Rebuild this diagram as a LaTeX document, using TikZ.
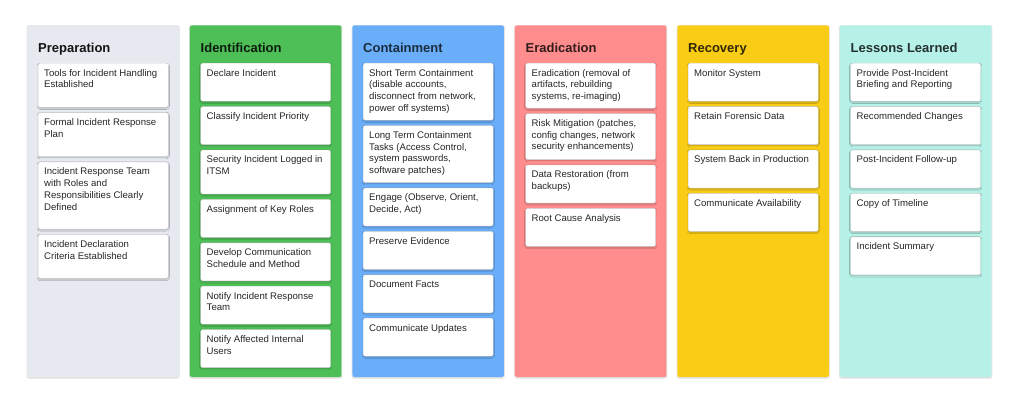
\documentclass[tikz,border=0pt]{standalone}
\usepackage{fontspec}
\setmainfont{Liberation Sans}
\usetikzlibrary{positioning, shadows.blur}
\definecolor{prepGray}{RGB}{230, 233, 239}
\definecolor{identGreen}{RGB}{78, 190, 86}
\definecolor{containBlue}{RGB}{106, 174, 249}
\definecolor{eradRed}{RGB}{255, 141, 141}
\definecolor{recovYellow}{RGB}{249, 204, 22}
\definecolor{lessonsTeal}{RGB}{182, 241, 232}
\newcommand{\cardtext}[2]{\parbox[t][#1][t]{118pt}{\raggedright #2}}
\tikzset{
    % Column Style
    phase/.style={
        rectangle,
        rounded corners=2pt,
        minimum width=152pt,
        minimum height=352pt,
        inner sep=0pt,
        draw=black!8,
        fill=#1,
        blur shadow={shadow xshift=0pt, shadow yshift=-0.8pt, shadow blur radius=1.2pt, shadow opacity=20}
    },
    % Card Style
    card/.style={
        rectangle,
        rounded corners=2pt,
        inner xsep=6pt,
        inner ysep=6pt,
        fill=white,
        draw=black!20,
        text=black!85,
        font=\fontsize{9.6}{11.7}\selectfont,
        blur shadow={shadow xshift=0pt, shadow yshift=-1pt, shadow blur radius=1.2pt, shadow opacity=25}
    },
    % Title Style
    phaseTitle/.style={font=\bfseries\fontsize{13}{15}\selectfont, anchor=base west, inner sep=0pt}
}

\begin{document}
\begin{tikzpicture}[node distance=5pt and 10.1pt]

    \useasboundingbox (0pt,0pt) rectangle (1024pt,-410pt);

    % --- COLUMNS ---
    \node (prep) [phase=prepGray, anchor=north west] at (27pt,-25pt) {};
    \node (ident) [phase=identGreen, right=of prep] {};
    \node (contain) [phase=containBlue, right=of ident] {};
    \node (erad) [phase=eradRed, right=of contain] {};
    \node (recov) [phase=recovYellow, right=of erad] {};
    \node (lessons) [phase=lessonsTeal, right=of recov] {};

    % --- TITLES ---
    \node (prepT) [phaseTitle, text=black!92] at ([xshift=11pt,yshift=-27pt]prep.north west) {Preparation};
    \node (identT) [phaseTitle, text=identGreen!15!black] at ([xshift=11pt,yshift=-27pt]ident.north west) {Identification};
    \node (containT) [phaseTitle, text=containBlue!25!black] at ([xshift=11pt,yshift=-27pt]contain.north west) {Containment};
    \node (eradT) [phaseTitle, text=eradRed!20!black] at ([xshift=11pt,yshift=-27pt]erad.north west) {Eradication};
    \node (recovT) [phaseTitle, text=recovYellow!20!black] at ([xshift=11pt,yshift=-27pt]recov.north west) {Recovery};
    \node (lessonsT) [phaseTitle, text=lessonsTeal!20!black] at ([xshift=11pt,yshift=-27pt]lessons.north west) {Lessons Learned};

    % --- Preparation ---
    \node (prep1) [card, anchor=north west] at ([xshift=11pt,yshift=-38pt]prep.north west) {\cardtext{32pt}{Tools for Incident Handling Established}};
    \node (prep2) [card, below=of prep1] {\cardtext{32pt}{Formal Incident Response Plan}};
    \node (prep3) [card, below=of prep2] {\cardtext{55pt}{Incident Response Team with Roles and Responsibilities Clearly Defined}};
    \node (prep4) [card, below=of prep3] {\cardtext{32pt}{Incident Declaration Criteria Established}};

    % --- Identification ---
    \node (ident1) [card, anchor=north west] at ([xshift=11pt,yshift=-38pt]ident.north west) {\cardtext{26pt}{Declare Incident}};
    \node (ident2) [card, below=of ident1] {\cardtext{26pt}{Classify Incident Priority}};
    \node (ident3) [card, below=of ident2] {\cardtext{32pt}{Security Incident Logged in ITSM}};
    \node (ident4) [card, below=of ident3] {\cardtext{26pt}{Assignment of Key Roles}};
    \node (ident5) [card, below=of ident4] {\cardtext{26pt}{Develop Communication Schedule and Method}};
    \node (ident6) [card, below=of ident5] {\cardtext{26pt}{Notify Incident Response Team}};
    \node (ident7) [card, below=of ident6] {\cardtext{26pt}{Notify Affected Internal Users}};

    % --- Containment ---
    \node (contain1) [card, anchor=north west] at ([xshift=11pt,yshift=-38pt]contain.north west) {\cardtext{45pt}{Short Term Containment (disable accounts, disconnect from network, power off systems)}};
    \node (contain2) [card, below=of contain1] {\cardtext{45pt}{Long Term Containment Tasks (Access Control, system passwords, software patches)}};
    \node (contain3) [card, below=of contain2] {\cardtext{26pt}{Engage (Observe, Orient, Decide, Act)}};
    \node (contain4) [card, below=of contain3] {\cardtext{26pt}{Preserve Evidence}};
    \node (contain5) [card, below=of contain4] {\cardtext{26pt}{Document Facts}};
    \node (contain6) [card, below=of contain5] {\cardtext{26pt}{Communicate Updates}};

    % --- Eradication ---
    \node (erad1) [card, anchor=north west] at ([xshift=11pt,yshift=-38pt]erad.north west) {\cardtext{33pt}{Eradication (removal of artifacts, rebuilding systems, re-imaging)}};
    \node (erad2) [card, below=of erad1] {\cardtext{34pt}{Risk Mitigation (patches, config changes, network security enhancements)}};
    \node (erad3) [card, below=of erad2] {\cardtext{26pt}{Data Restoration (from backups)}};
    \node (erad4) [card, below=of erad3] {\cardtext{26pt}{Root Cause Analysis}};

    % --- Recovery ---
    \node (recov1) [card, anchor=north west] at ([xshift=11pt,yshift=-38pt]recov.north west) {\cardtext{26pt}{Monitor System}};
    \node (recov2) [card, below=of recov1] {\cardtext{26pt}{Retain Forensic Data}};
    \node (recov3) [card, below=of recov2] {\cardtext{26pt}{System Back in Production}};
    \node (recov4) [card, below=of recov3] {\cardtext{26pt}{Communicate Availability}};

    % --- Lessons Learned ---
    \node (lessons1) [card, anchor=north west] at ([xshift=11pt,yshift=-38pt]lessons.north west) {\cardtext{26pt}{Provide Post-Incident Briefing and Reporting}};
    \node (lessons2) [card, below=of lessons1] {\cardtext{26pt}{Recommended Changes}};
    \node (lessons3) [card, below=of lessons2] {\cardtext{26pt}{Post-Incident Follow-up}};
    \node (lessons4) [card, below=of lessons3] {\cardtext{26pt}{Copy of Timeline}};
    \node (lessons5) [card, below=of lessons4] {\cardtext{26pt}{Incident Summary}};

\end{tikzpicture}
\end{document}
